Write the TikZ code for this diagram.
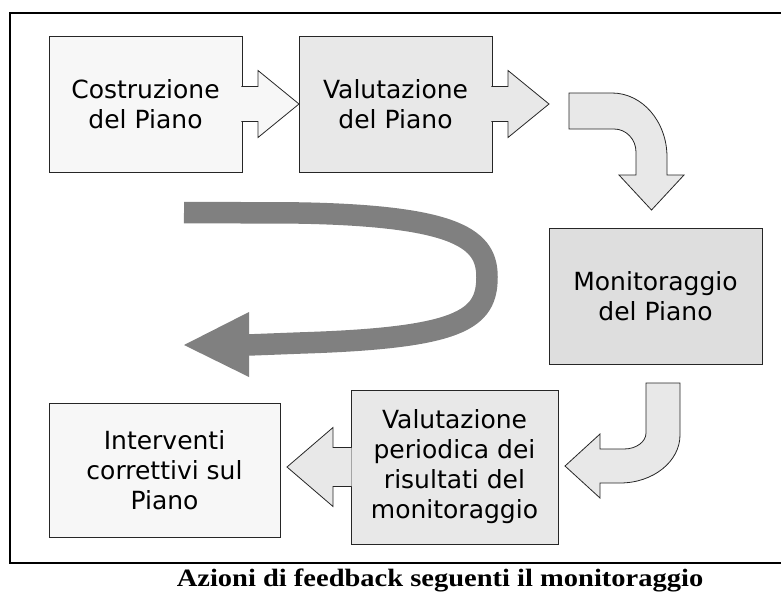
\documentclass[tikz,border=0pt]{standalone}
\usepackage{fontspec}
\newfontfamily\boxfont{DejaVu Sans}
\newfontfamily\capfont{Liberation Serif}
\usetikzlibrary{calc}
\definecolor{fillA}{gray}{0.97}
\definecolor{fillB}{gray}{0.91}
\definecolor{fillC}{gray}{0.87}
\definecolor{loopgray}{gray}{0.5}
\begin{document}
\begin{tikzpicture}[x=1pt, y=-1pt,
  procbox/.style={draw=black!85, line width=0.8pt, inner sep=0pt, outer sep=0pt, align=center, font=\boxfont\fontsize{25}{30}\selectfont},
  blockarrow/.style={draw=black!85, line width=0.8pt, line join=miter}]
\useasboundingbox (0,0) rectangle (781,592);
\clip (0,0) rectangle (781,592);
\draw[line width=2pt] (10,13) rectangle (790,563);
% process boxes
\node[procbox, fill=fillA, minimum width=193pt, minimum height=136pt] (cost) at (145.5,104) {Costruzione\\del Piano};
\node[procbox, fill=fillB, minimum width=193pt, minimum height=136pt] (valpiano) at (395.5,104) {Valutazione\\del Piano};
\node[procbox, fill=fillC, minimum width=213pt, minimum height=136pt] (monit) at (655.5,296) {Monitoraggio\\del Piano};
\node[procbox, fill=fillB, minimum width=207pt, minimum height=154pt] (valper) at (454.5,467) {Valutazione\\periodica dei\\risultati del\\monitoraggio};
\node[procbox, fill=fillA, minimum width=231pt, minimum height=134pt] (interv) at (164.5,470) {Interventi\\correttivi sul\\Piano};
\coordinate (tipB) at ($(valpiano.east)+(57,0)$);
\coordinate (tipD) at ($(valper.west)+(-64,0)$);
\coordinate (tipM) at ($(monit.north)+(-4,-18)$);
\coordinate (tipV) at ($(valper.east)+(7,-1)$);
\coordinate (loopS) at (184,212.5);
\coordinate (loopE) at (248,345);
% block arrows
\filldraw[blockarrow, fill=fillA] ($(cost.east)+(-0.6,-17.5)$) -- ++(16.6,0) -- ++(0,-16) -- (valpiano.west) -- ++(-41,33.5) -- ++(0,-16) -- ($(cost.east)+(-0.6,17.5)$);
\filldraw[blockarrow, fill=fillB] ($(valpiano.east)+(-0.6,-17.5)$) -- ++(16.6,0) -- ++(0,-16) -- (tipB) -- ++(-41,33.5) -- ++(0,-16) -- ($(valpiano.east)+(-0.6,17.5)$);
\filldraw[blockarrow, fill=fillB] (tipM) -- (684,175) -- (667,175) -- (667,157) .. controls (667,121.7) and (642.4,93) .. (612,93) -- (569,93) -- (569,129) -- (614,129) .. controls (626.2,129) and (636,139.3) .. (636,152) -- (636,175) -- (619,175) -- cycle;
\filldraw[blockarrow, fill=fillB] (tipV) -- (600,434) -- (600,449) -- (624,449) .. controls (636.2,449) and (646,441.8) .. (646,433) -- (646,383) -- (680,383) -- (680,435) .. controls (680,461.5) and (653.1,483) .. (620,483) -- (600,483) -- (600,498) -- cycle;
\filldraw[blockarrow, fill=fillB] ($(valper.west)+(0.6,-19.5)$) -- ++(-18.6,0) -- ++(0,-20) -- (tipD) -- ++(46,39.5) -- ++(0,-20) -- ($(valper.west)+(0.6,19.5)$);
% feedback loop
\draw[loopgray, line width=21.5pt] (loopS) -- (300,213) .. controls (460,216) and (487,240) .. (487,277) .. controls (487,320) and (460,338) .. (300,343) -- (loopE);
\fill[loopgray] ($(loopE)+(1,-33)$) -- ($(loopE)+(-64,0)$) -- ($(loopE)+(1,32)$) -- cycle;
\node[anchor=base, inner sep=0pt, font=\capfont\bfseries\fontsize{25}{28}\selectfont] (cap) at (440,586) {\scalebox{1.14}[1]{Azioni di feedback seguenti il monitoraggio}};
\end{tikzpicture}
\end{document}
